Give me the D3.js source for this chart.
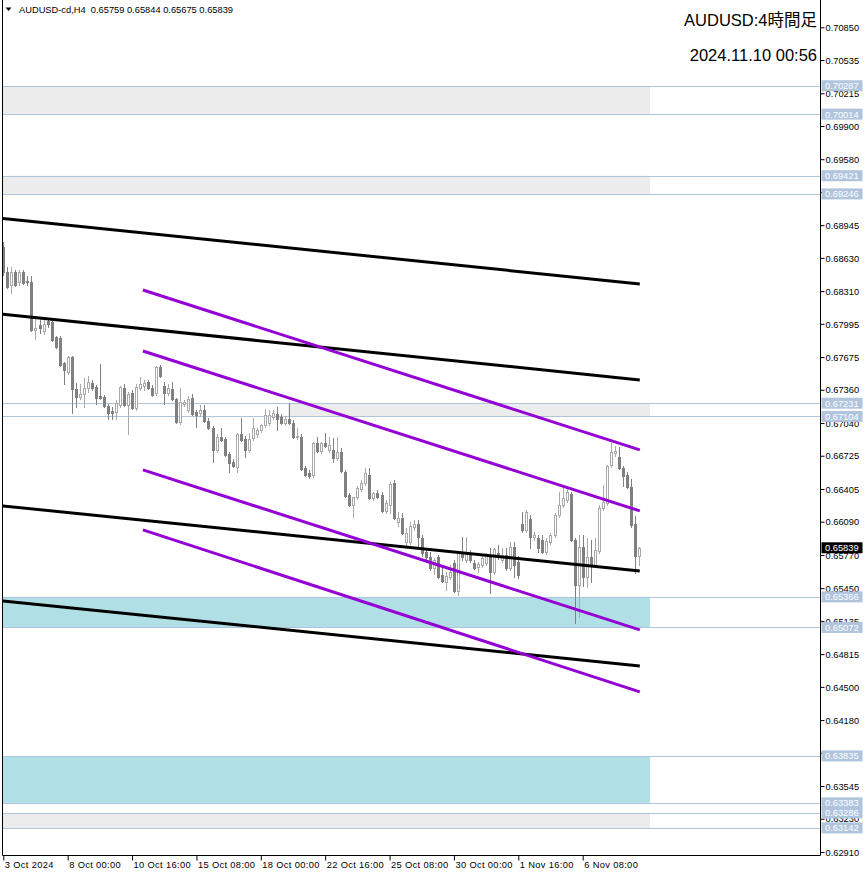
<!DOCTYPE html>
<html><head><meta charset="utf-8">
<script src="https://cdn.jsdelivr.net/npm/d3@7"></script>
<style>html,body{margin:0;padding:0;background:#fff}svg{display:block}</style>
</head><body>
<div id="chart"></div>
<script>
// ---------------- DATA ----------------
const symbolName = "AUDUSD-cd,H4";
const titleLines = ["AUDUSD:4時間足", "2024.11.10 00:56"];

const open = [0.68735,0.68494,0.68369,0.68494,0.68398,0.68494,0.68408,0.68398,0.67936,0.67984,
0.67926,0.68023,0.68013,0.67869,0.67859,0.67618,0.67532,0.67676,0.67368,0.67291,
0.67320,0.67378,0.67426,0.67387,0.67301,0.67291,0.67204,0.67156,0.67147,0.67214,
0.67378,0.67214,0.67330,0.67185,0.67378,0.67397,0.67436,0.67378,0.67330,0.67580,
0.67397,0.67330,0.67368,0.67272,0.67050,0.67224,0.67166,0.67282,0.67147,0.67137,
0.67166,0.67060,0.66993,0.66781,0.66906,0.66887,0.66742,0.66665,0.66617,0.66935,
0.66887,0.66781,0.66896,0.66935,0.66973,0.67022,0.67041,0.67099,0.67127,0.67099,
0.67041,0.67079,0.67041,0.66906,0.66906,0.66608,0.66559,0.66540,0.66848,0.66771,
0.66848,0.66781,0.66781,0.66704,0.66762,0.66569,0.66348,0.66251,0.66328,0.66405,
0.66463,0.66540,0.66319,0.66367,0.66348,0.66194,0.66251,0.66463,0.66088,0.66126,
0.65895,0.65895,0.66040,0.66069,0.65934,0.65799,0.65751,0.65645,0.65751,0.65578,
0.65510,0.65558,0.65693,0.65423,0.65799,0.65722,0.65770,0.65693,0.65655,0.65674,
0.65693,0.65770,0.65606,0.65789,0.65722,0.65770,0.65645,0.65847,0.65703,0.66069,
0.66011,0.66117,0.65943,0.65934,0.65914,0.65799,0.65895,0.65963,0.66155,0.66251,
0.66300,0.66357,0.65914,0.65481,0.65847,0.65558,0.65751,0.65674,0.65809,0.66223,
0.66271,0.66636,0.66752,0.66714,0.66608,0.66540,0.66424,0.66069,0.65759];
const high = [0.68783,0.68543,0.68543,0.68514,0.68514,0.68514,0.68456,0.68456,0.68061,0.68052,
0.68052,0.68052,0.68052,0.67878,0.67878,0.67628,0.67686,0.67686,0.67426,0.67416,
0.67474,0.67493,0.67455,0.67407,0.67609,0.67310,0.67224,0.67195,0.67262,0.67397,
0.67416,0.67339,0.67359,0.67416,0.67484,0.67455,0.67455,0.67407,0.67590,0.67599,
0.67436,0.67416,0.67436,0.67282,0.67378,0.67262,0.67301,0.67320,0.67166,0.67214,
0.67214,0.67089,0.67012,0.66935,0.66993,0.66906,0.66762,0.66694,0.66945,0.67089,
0.66916,0.66945,0.67089,0.66993,0.67031,0.67176,0.67166,0.67166,0.67195,0.67127,
0.67108,0.67233,0.67070,0.66993,0.66935,0.66627,0.66588,0.66858,0.66906,0.66858,
0.66945,0.66906,0.66896,0.66906,0.66800,0.66588,0.66367,0.66328,0.66434,0.66492,
0.66608,0.66608,0.66377,0.66396,0.66377,0.66300,0.66473,0.66492,0.66184,0.66174,
0.66030,0.66088,0.66107,0.66107,0.65963,0.65828,0.65799,0.65741,0.65770,0.65645,
0.65606,0.65674,0.65722,0.65799,0.65943,0.65943,0.65818,0.65722,0.65703,0.65760,
0.65789,0.65837,0.65837,0.65866,0.65837,0.65837,0.65895,0.65895,0.65760,0.66184,
0.66203,0.66155,0.65991,0.65963,0.65963,0.65934,0.65982,0.66174,0.66377,0.66415,
0.66415,0.66377,0.65934,0.65963,0.65963,0.65934,0.65914,0.65934,0.66251,0.66444,
0.66636,0.66848,0.66819,0.66810,0.66627,0.66569,0.66502,0.66146,0.65844];
const low = [0.68466,0.68340,0.68292,0.68360,0.68369,0.68379,0.68369,0.67926,0.67849,0.67907,
0.67898,0.67965,0.67830,0.67763,0.67590,0.67416,0.67513,0.67137,0.67195,0.67272,
0.67195,0.67339,0.67359,0.67224,0.67272,0.67195,0.67079,0.67079,0.67079,0.67195,
0.67204,0.66935,0.67176,0.67166,0.67359,0.67359,0.67368,0.67301,0.67310,0.67484,
0.67224,0.67310,0.67262,0.67041,0.67031,0.67204,0.67147,0.67118,0.67002,0.67108,
0.67050,0.66983,0.66665,0.66762,0.66868,0.66723,0.66569,0.66617,0.66569,0.66868,
0.66714,0.66762,0.66877,0.66906,0.66954,0.67002,0.67022,0.67079,0.66973,0.67031,
0.67022,0.67031,0.66896,0.66887,0.66588,0.66531,0.66511,0.66521,0.66762,0.66752,
0.66810,0.66762,0.66665,0.66685,0.66569,0.66328,0.66242,0.66136,0.66309,0.66386,
0.66444,0.66309,0.66300,0.66319,0.66184,0.66174,0.66174,0.66117,0.66049,0.65972,
0.65857,0.65876,0.66011,0.65837,0.65760,0.65732,0.65626,0.65587,0.65549,0.65510,
0.65433,0.65539,0.65414,0.65385,0.65722,0.65703,0.65703,0.65635,0.65606,0.65655,
0.65674,0.65404,0.65587,0.65732,0.65703,0.65626,0.65626,0.65558,0.65549,0.65991,
0.65991,0.65837,0.65914,0.65799,0.65789,0.65780,0.65876,0.65943,0.66136,0.66232,
0.66280,0.65905,0.65115,0.65173,0.65472,0.65462,0.65510,0.65655,0.65789,0.66203,
0.66251,0.66617,0.66723,0.66598,0.66434,0.66415,0.66040,0.65597,0.65675];
const close = [0.68494,0.68350,0.68494,0.68369,0.68494,0.68389,0.68398,0.67936,0.67955,0.67955,
0.67994,0.67994,0.67840,0.67772,0.67599,0.67551,0.67676,0.67368,0.67291,0.67320,
0.67378,0.67436,0.67378,0.67282,0.67282,0.67204,0.67137,0.67137,0.67233,0.67387,
0.67214,0.67320,0.67185,0.67387,0.67416,0.67426,0.67378,0.67310,0.67580,0.67493,
0.67330,0.67378,0.67272,0.67050,0.67243,0.67243,0.67272,0.67127,0.67118,0.67166,
0.67060,0.66993,0.66781,0.66906,0.66877,0.66733,0.66656,0.66627,0.66935,0.66877,
0.66781,0.66887,0.66993,0.66973,0.67022,0.67118,0.67118,0.67137,0.67079,0.67041,
0.67079,0.67041,0.66906,0.66916,0.66598,0.66540,0.66531,0.66848,0.66771,0.66848,
0.66819,0.66829,0.66704,0.66762,0.66579,0.66338,0.66251,0.66328,0.66415,0.66463,
0.66559,0.66319,0.66367,0.66328,0.66194,0.66271,0.66454,0.66126,0.66126,0.65982,
0.65982,0.66049,0.66069,0.65943,0.65789,0.65751,0.65645,0.65722,0.65558,0.65520,
0.65568,0.65606,0.65423,0.65789,0.65751,0.65789,0.65722,0.65645,0.65683,0.65741,
0.65770,0.65606,0.65828,0.65751,0.65770,0.65645,0.65847,0.65674,0.65578,0.66011,
0.66184,0.65943,0.65963,0.65837,0.65799,0.65905,0.65963,0.66155,0.66251,0.66319,
0.66377,0.65914,0.65481,0.65847,0.65558,0.65751,0.65664,0.65818,0.66223,0.66280,
0.66627,0.66762,0.66771,0.66608,0.66531,0.66424,0.66059,0.65760,0.65839];

const xTickIdx = [0,16,32,48,64,80,96,112,128,144];
const xTickLabels = ["3 Oct 2024","8 Oct 00:00","10 Oct 16:00","15 Oct 08:00","18 Oct 00:00",
  "22 Oct 16:00","25 Oct 08:00","30 Oct 00:00","1 Nov 16:00","6 Nov 08:00"];
const yTicks = [0.70850,0.70535,0.70215,0.69900,0.69580,0.69265,0.68945,0.68630,0.68310,0.67995,
  0.67675,0.67360,0.67040,0.66725,0.66405,0.66090,0.65770,0.65450,0.65135,0.64815,
  0.64500,0.64180,0.63865,0.63545,0.63230,0.62910];

const levels = [0.70287,0.70014,0.69421,0.69246,0.67231,0.67104,0.65366,0.65072,0.63835,0.63383,0.63286,0.63142];
// zones: start/end bar index, upper/lower price, kind 0 = gray, 1 = blue
const zoneStart = [-1, -1, 70.75, -1, -1, -1];
const zoneEnd   = [160.75,160.75,160.75,160.75,160.75,160.75];
const zoneTop   = [0.70287,0.69421,0.67231,0.65366,0.63835,0.63286];
const zoneBot   = [0.70014,0.69246,0.67104,0.65072,0.63383,0.63142];
const zoneKind  = [0,0,0,1,1,0];
// trend lines: [idx1, price1, idx2, price2]
const blackLines = [[-0.1,0.69010,158.2,0.68379],[-0.1,0.68087,158.2,0.67455],
                    [-0.1,0.66242,158.2,0.65616],[-0.1,0.65327,158.2,0.64701]];
const purpleLines = [[34.7,0.68321,158.2,0.66781],[34.7,0.67734,158.2,0.66194],
                     [34.7,0.66589,158.2,0.65048],[34.7,0.66011,158.2,0.64451]];

// ---------------- DRAW ----------------
const W = 866, H = 876;
const plotL = 2.5, plotR = 820.5, plotB = 855.5;
const FONT = "'Liberation Sans', Arial, sans-serif";
const svg = d3.select("#chart").append("svg").attr("width", W).attr("height", H)
  .style("font-family", FONT);

const x = d3.scaleLinear().domain([0, 158]).range([3.3, 639]);
const y = d3.scaleLinear().domain([0.70850, 0.62910]).range([27.3, 852]);

svg.append("clipPath").attr("id", "plot").append("rect")
  .attr("x", 3).attr("y", 0).attr("width", plotR - 3.5).attr("height", plotB - 0.5);
const g = svg.append("g").attr("clip-path", "url(#plot)");

const zoneColors = ["#ececec", "#b0e0e6"];
g.selectAll("rect.zone").data(zoneTop).join("rect").attr("class", "zone")
  .attr("x", (d, i) => x(zoneStart[i]))
  .attr("y", d => y(d))
  .attr("width", (d, i) => x(zoneEnd[i]) - x(zoneStart[i]))
  .attr("height", (d, i) => y(zoneBot[i]) - y(d))
  .attr("fill", (d, i) => zoneColors[zoneKind[i]]);

g.selectAll("line.level").data(levels).join("line").attr("class", "level")
  .attr("x1", 3).attr("x2", plotR)
  .attr("y1", d => Math.round(y(d)) + 0.5).attr("y2", d => Math.round(y(d)) + 0.5)
  .attr("stroke", "#b0c4de").attr("stroke-width", 1);

// candles
const idx = d3.range(open.length);
const cg = g.append("g").attr("shape-rendering", "crispEdges");
idx.forEach(i => {
  const cx = Math.round(x(i)) + 0.5;
  const up = close[i] >= open[i];
  const col = up ? "#a9a9a9" : "#808080";
  cg.append("line").attr("x1", cx).attr("x2", cx)
    .attr("y1", Math.round(y(high[i]))).attr("y2", Math.round(y(low[i])) + 1)
    .attr("stroke", col);
  const yo = Math.round(y(open[i])), yc = Math.round(y(close[i]));
  if (up) {
    const h = Math.max(0, yo - yc);
    cg.append("rect").attr("x", cx - 1).attr("y", yc + 0.5).attr("width", 2).attr("height", h)
      .attr("fill", "#fff").attr("stroke", col);
  } else {
    const h = Math.max(1, yc - yo);
    cg.append("rect").attr("x", cx - 1.5).attr("y", yo).attr("width", 3).attr("height", h + 1)
      .attr("fill", col);
  }
});

// trend lines
function drawLines(arr, color) {
  g.selectAll(null).data(arr).join("line")
    .attr("x1", d => x(d[0])).attr("y1", d => y(d[1]))
    .attr("x2", d => x(d[2])).attr("y2", d => y(d[3]))
    .attr("stroke", color).attr("stroke-width", 3);
}
drawLines(blackLines, "#000");
drawLines(purpleLines, "#9400d3");

// frame
svg.append("path").attr("d", `M${plotL},0V${plotB}H${plotR}V0`)
  .attr("fill", "none").attr("stroke", "#000").attr("stroke-width", 1);

// price axis (tick labels fully covered by a level label are not shown, as in the reference)
const covered = v => levels.some(l => Math.abs(y(l) - y(v)) < 3.5);
const fmt5 = d3.format(".5f");
const yAxis = d3.axisRight(y).tickValues(yTicks).tickSize(4).tickSizeOuter(0)
  .tickFormat(d => covered(d) ? "" : fmt5(d));
const ya = svg.append("g").attr("transform", `translate(${plotR},0)`).call(yAxis);
ya.select(".domain").remove();
ya.selectAll(".tick line").attr("stroke", "#000");
ya.selectAll(".tick text").attr("x", 5).attr("dy", "0.34em")
  .style("font-family", FONT).style("font-size", "9.3px").attr("fill", "#000");

// time axis
const xAxis = d3.axisBottom(x).tickValues(xTickIdx).tickSize(5).tickSizeOuter(0)
  .tickFormat((d, i) => xTickLabels[i]);
const xa = svg.append("g").attr("transform", `translate(0,${plotB})`).call(xAxis);
xa.select(".domain").remove();
xa.selectAll(".tick line").attr("stroke", "#000");
xa.selectAll(".tick text").attr("text-anchor", "start").attr("x", 1).attr("y", 12.5).attr("dy", 0)
  .style("font-family", FONT).style("font-size", "9.3px").style("letter-spacing", "0.35px").attr("fill", "#000");

// level price labels
const lbl = svg.append("g");
levels.forEach(v => {
  const cy = y(v);
  lbl.append("rect").attr("x", 821.5).attr("y", cy - 5.5).attr("width", 41).attr("height", 11).attr("fill", "#b0c4de");
  lbl.append("text").attr("x", 825).attr("y", cy + 3.4).text(fmt5(v))
    .attr("fill", "#fff").style("font-size", "9.3px");
});
// current price label
const last = close[close.length - 1];
lbl.append("rect").attr("x", 821.5).attr("y", y(last) - 5.5).attr("width", 41).attr("height", 11).attr("fill", "#000");
lbl.append("text").attr("x", 825).attr("y", y(last) + 3.4).text(fmt5(last))
  .attr("fill", "#fff").style("font-size", "9.3px");

// header
const n = open.length - 1;
svg.append("path").attr("d", "M5.5,7.5L11.5,7.5L8.5,11Z").attr("fill", "#000");
svg.append("text").attr("x", 19).attr("y", 12.5).style("font-size", "9.3px").attr("fill", "#000")
  .attr("xml:space", "preserve")
  .text(`${symbolName}  ${[open[n], high[n], low[n], close[n]].map(fmt5).join(" ")}`);

// title
svg.selectAll("text.title").data(titleLines).join("text").attr("class", "title")
  .attr("x", 817).attr("y", (d, i) => 26 + i * 35).attr("text-anchor", "end")
  .style("font-family", "'Liberation Sans', 'Noto Sans CJK JP', sans-serif")
  .style("font-size", "16.5px").attr("fill", "#000").text(d => d);
</script>
</body></html>
